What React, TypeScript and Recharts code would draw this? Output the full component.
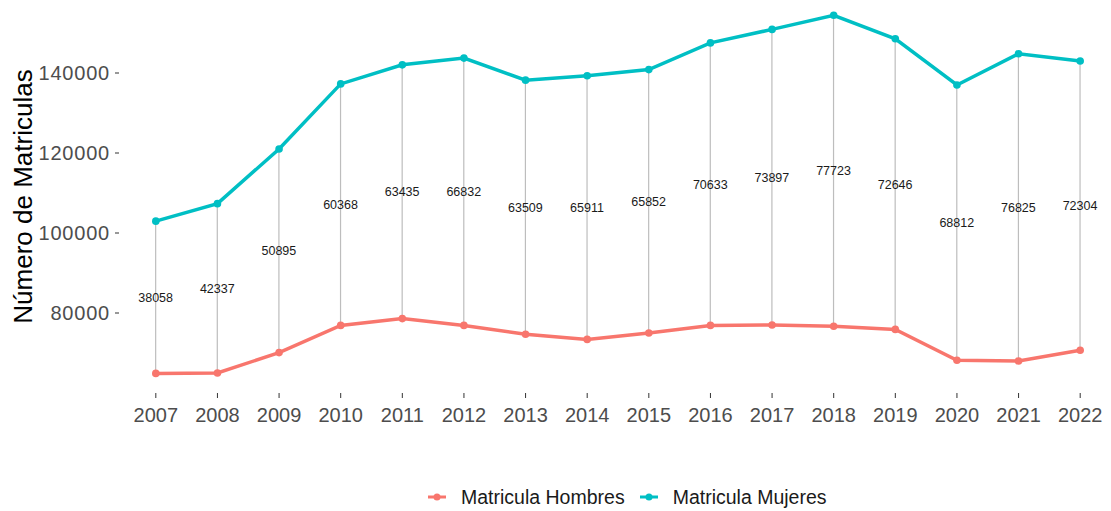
import React from 'react';
import { ComposedChart, Line, Bar, XAxis, YAxis, LabelList, Legend, Label } from 'recharts';

const years = ['2007', '2008', '2009', '2010', '2011', '2012', '2013', '2014', '2015', '2016', '2017', '2018', '2019', '2020', '2021', '2022'];
const hombres = [64900, 65000, 70100, 76900, 78600, 76900, 74700, 73400, 75000, 76900, 77000, 76700, 75900, 68200, 68000, 70700];
const mujeres = [102960, 107340, 121000, 137270, 142040, 143730, 138210, 139310, 140850, 147530, 150900, 154420, 148550, 137010, 144830, 143000];
const brecha = [38058, 42337, 50895, 60368, 63435, 66832, 63509, 65911, 65852, 70633, 73897, 77723, 72646, 68812, 76825, 72304];
const yTicks = [80000, 100000, 120000, 140000];

const COLOR_H = '#F8766D';
const COLOR_M = '#00BFC4';
const FONT = '"Liberation Sans", Arial, Helvetica, sans-serif';

const data = years.map((year, i) => ({
  year,
  hombres: hombres[i],
  mujeres: mujeres[i],
  rango: [hombres[i], mujeres[i]],
  brecha: brecha[i],
}));

const SegmentShape = (props: any) => {
  const { x, y, width, height } = props;
  const cx = x + width / 2;
  const y1 = Math.min(y, y + height);
  const y2 = Math.max(y, y + height);
  return <line x1={cx} x2={cx} y1={y1} y2={y2} stroke="#bdbdbd" strokeWidth={1.2} />;
};

const legendItems = [
  { name: 'Matricula Hombres', color: COLOR_H },
  { name: 'Matricula Mujeres', color: COLOR_M },
];

const renderLegend = () => (
  <div
    style={{
      display: 'flex',
      alignItems: 'center',
      height: 24,
      paddingLeft: 427,
      fontFamily: FONT,
      fontSize: 19.5,
      color: '#1a1a1a',
    }}
  >
    {legendItems.map((it) => (
      <span key={it.name} style={{ display: 'flex', alignItems: 'center', marginRight: 14 }}>
        <svg width={20} height={12}>
          <line x1={1} x2={19} y1={6} y2={6} stroke={it.color} strokeWidth={3} />
          <circle cx={10} cy={6} r={3.5} fill={it.color} />
        </svg>
        <span style={{ marginLeft: 14 }}>{it.name}</span>
      </span>
    ))}
  </div>
);

export default function App() {
  return (
    <div style={{ position: 'absolute', left: 0, top: 0, width: 1111, height: 511, background: '#fff' }}>
      <ComposedChart
        width={1111}
        height={511}
        data={data}
        margin={{ top: 0, right: 0, bottom: 2, left: 0 }}
      >
        <XAxis
          dataKey="year"
          padding={{ left: 6, right: 0 }}
          height={92}
          axisLine={false}
          tickSize={5}
          tickMargin={10}
          tickLine={{ stroke: '#333333' }}
          tick={{ fontSize: 20, fill: '#4d4d4d', fontFamily: FONT }}
          interval={0}
        />
        <YAxis
          type="number"
          domain={[60000, 158250]}
          allowDataOverflow
          ticks={yTicks}
          width={119}
          axisLine={false}
          tickSize={4}
          tickMargin={5}
          tickLine={{ stroke: '#333333' }}
          tick={{ fontSize: 20, fill: '#4d4d4d', fontFamily: FONT, letterSpacing: 0.8 }}
        >
          <Label
            value="Número de Matriculas"
            angle={-90}
            position="insideLeft"
            offset={23}
            style={{ textAnchor: 'middle', fontSize: 26, fill: '#000', fontFamily: FONT }}
          />
        </YAxis>
        <Legend verticalAlign="bottom" height={24} content={renderLegend} />
        <Bar dataKey="rango" shape={<SegmentShape />} isAnimationActive={false} legendType="none">
          <LabelList
            dataKey="brecha"
            position="center"
            style={{ fontSize: 12.5, fill: '#1a1a1a', fontFamily: FONT }}
          />
        </Bar>
        <Line
          type="linear"
          dataKey="hombres"
          name="Matricula Hombres"
          stroke={COLOR_H}
          strokeWidth={3.5}
          dot={{ r: 3.8, fill: COLOR_H, stroke: COLOR_H, strokeWidth: 0 }}
          isAnimationActive={false}
        />
        <Line
          type="linear"
          dataKey="mujeres"
          name="Matricula Mujeres"
          stroke={COLOR_M}
          strokeWidth={3.5}
          dot={{ r: 3.8, fill: COLOR_M, stroke: COLOR_M, strokeWidth: 0 }}
          isAnimationActive={false}
        />
      </ComposedChart>
    </div>
  );
}
